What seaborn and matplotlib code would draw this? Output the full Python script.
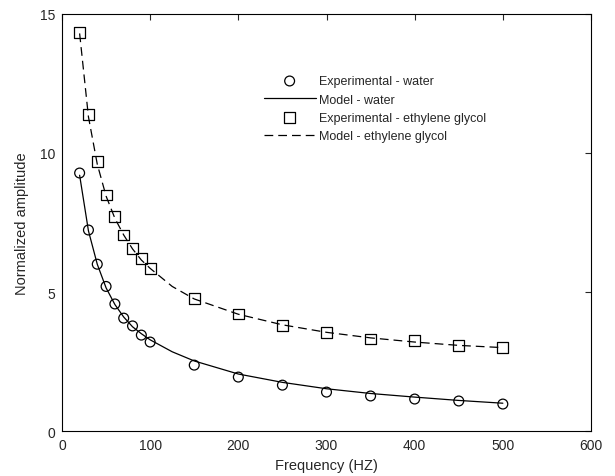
import numpy as np
import pandas as pd
import matplotlib
matplotlib.use("Agg")
import matplotlib.pyplot as plt
import seaborn as sns

# Experimental data
freq_exp = [20, 30, 40, 50, 60, 70, 80, 90, 100, 150, 200, 250, 300, 350, 400, 450, 500]
water_exp = [9.28, 7.23, 6.0, 5.2, 4.57, 4.06, 3.78, 3.45, 3.2, 2.37, 1.94, 1.65, 1.40, 1.26, 1.15, 1.08, 0.97]
glycol_exp = [14.35, 11.4, 9.68, 8.49, 7.7, 7.05, 6.55, 6.19, 5.86, 4.75, 4.21, 3.81, 3.56, 3.31, 3.24, 3.09, 3.02]

# Model curves
freq_model = [20, 30, 40, 50, 60, 70, 80, 90, 100, 125, 150, 200, 250, 300, 350, 400, 450, 500]
water_model = [9.2, 7.2, 6.0, 5.15, 4.55, 4.1, 3.75, 3.5, 3.28, 2.85, 2.52, 2.05, 1.75, 1.52, 1.35, 1.22, 1.1, 1.0]
glycol_model = [14.3, 11.3, 9.6, 8.45, 7.65, 7.05, 6.55, 6.15, 5.85, 5.2, 4.75, 4.2, 3.82, 3.55, 3.35, 3.2, 3.08, 3.0]

x_ticks = [0, 100, 200, 300, 400, 500, 600]
y_ticks = [0, 5, 10, 15]

sns.set_style("white")
plt.rcParams['font.family'] = ['Liberation Sans', 'DejaVu Sans']
plt.rcParams['xtick.direction'] = 'in'
plt.rcParams['ytick.direction'] = 'in'

fig = plt.figure(figsize=(6.15, 4.77), dpi=100)
ax = fig.add_axes([0.1008, 0.0943, 0.8602, 0.8743])

df_wm = pd.DataFrame({"f": freq_model, "a": water_model})
df_gm = pd.DataFrame({"f": freq_model, "a": glycol_model})
df_we = pd.DataFrame({"f": freq_exp, "a": water_exp})
df_ge = pd.DataFrame({"f": freq_exp, "a": glycol_exp})

sns.lineplot(data=df_wm, x="f", y="a", ax=ax, color="black", lw=0.9, label="Model - water", sort=False)
sns.lineplot(data=df_gm, x="f", y="a", ax=ax, color="black", lw=0.9, linestyle=(0, (7, 4)),
             label="Model - ethylene glycol", sort=False)
sns.scatterplot(data=df_we, x="f", y="a", ax=ax, marker="o", s=50, facecolor="none",
                edgecolor="black", linewidth=0.9, label="Experimental - water", zorder=3)
sns.scatterplot(data=df_ge, x="f", y="a", ax=ax, marker="s", s=62, facecolor="none",
                edgecolor="black", linewidth=0.9, label="Experimental - ethylene glycol", zorder=3)

ax.set_xlim(0, 600)
ax.set_ylim(0, 15)
ax.set_xticks(x_ticks)
ax.set_yticks(y_ticks)
ax.tick_params(axis='both', which='both', direction='in', length=4, width=0.8,
               top=True, right=True, labelsize=10, pad=5)
for s in ax.spines.values():
    s.set_color("black")
    s.set_linewidth(0.8)

ax.set_xlabel("Frequency (HZ)", fontsize=10.5, labelpad=4)
ax.set_ylabel("Normalized amplitude", fontsize=10.5, labelpad=8)

handles, labels = ax.get_legend_handles_labels()
order = ["Experimental - water", "Model - water", "Experimental - ethylene glycol", "Model - ethylene glycol"]
hmap = dict(zip(labels, handles))
ax.legend([hmap[l] for l in order], order, loc="upper left", bbox_to_anchor=(0.36, 0.88),
          frameon=False, fontsize=9, handlelength=4.15, handletextpad=0.25, labelspacing=0.5)

fig.savefig("out.png", dpi=100)
